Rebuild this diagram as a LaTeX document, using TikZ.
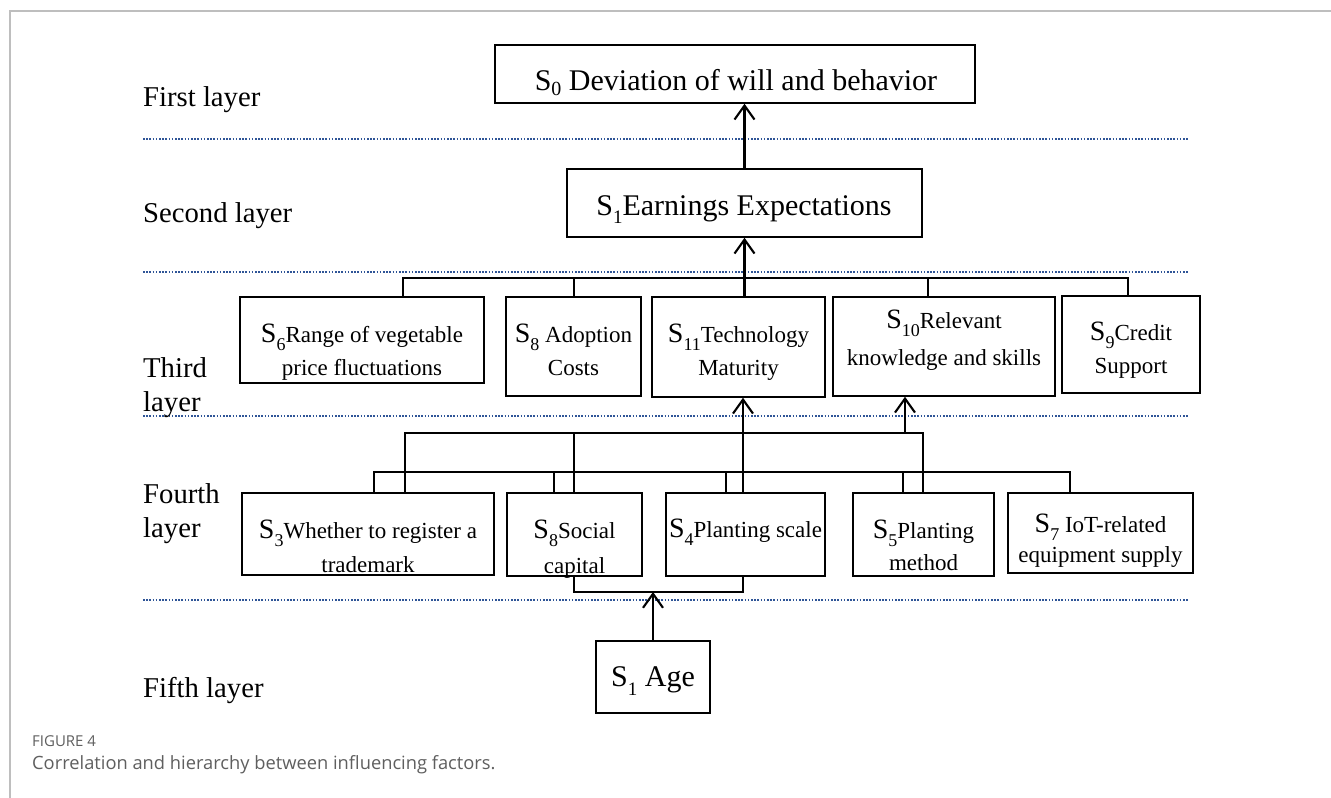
\documentclass[tikz,border=0pt]{standalone}
\usepackage{fontspec}
\setmainfont{Liberation Serif}
\newfontfamily\capfont{Open Sans}
\usetikzlibrary{arrows.meta}
\definecolor{dotblue}{RGB}{47,85,151}
\definecolor{framegray}{RGB}{190,190,190}
\definecolor{capgray}{RGB}{95,95,95}
\newcommand{\Sx}[4]{{\fontsize{#1}{#1}\selectfont S}\raisebox{-#3}{\fontsize{#2}{#2}\selectfont #4}}
\newcommand{\Sb}[1]{\Sx{28}{18}{8pt}{#1}}
\newcommand{\twol}[3]{\vtop{\baselineskip=#3\lineskiplimit=-100pt\halign{\hfil##\hfil\cr #1\cr #2\cr}}}
\begin{document}
\begin{tikzpicture}[x=1pt,y=-1pt,
  box/.style={draw, line width=1.5pt, inner sep=0pt},
  conn/.style={line width=2.1pt},
  arr/.style={line width=2.1pt, -{Straight Barb[length=14pt,width=20pt]}},
  layerline/.style={dotblue, line width=2pt, dash pattern=on 1.6pt off 1.6pt},
  lab/.style={anchor=base west, inner sep=0pt, font=\fontsize{28.7}{34}\selectfont},
  txt/.style={anchor=base, inner sep=0pt, font=\fontsize{23}{27}\selectfont},
  big/.style={anchor=base, inner sep=0pt, font=\fontsize{30}{34}\selectfont}]
\useasboundingbox (0,0) rectangle (1331,798);
\fill[white] (0,0) rectangle (1331,798);
% frame
\draw[framegray, line width=1.5pt] (10,798) -- (10,11) -- (1331,11);
% layer separators
\foreach \yy in {139,272,416,600} \draw[layerline] (143,\yy) -- (1188,\yy);
% layer labels
\node[lab] (L1) at (143,106) {First layer};
\node[lab] (L2) at (143,222) {Second layer};
\node[lab] (L3) at (143,377) {\vtop{\baselineskip=34pt\hbox{Third}\hbox{layer}}};
\node[lab] (L4) at (143,503) {\vtop{\baselineskip=34pt\hbox{Fourth}\hbox{layer}}};
\node[lab] (L5) at (143,697) {Fifth layer};
% boxes
\node[box, minimum width=480pt, minimum height=58pt] (S0) at (735,74) {};
\node[box, minimum width=355pt, minimum height=68pt] (S1) at (744.5,203) {};
\node[box, minimum width=244pt, minimum height=86pt] (S6) at (362,340) {};
\node[box, minimum width=135pt, minimum height=99pt] (S8a) at (573.5,346.5) {};
\node[box, minimum width=173pt, minimum height=100pt] (S11) at (738.5,347) {};
\node[box, minimum width=222pt, minimum height=99pt] (S10) at (944,346.5) {};
\node[box, minimum width=138pt, minimum height=97pt] (S9) at (1131,344.5) {};
\node[box, minimum width=252pt, minimum height=82pt] (S3) at (368,534) {};
\node[box, minimum width=135pt, minimum height=83pt] (S8s) at (574.5,534.5) {};
\node[box, minimum width=159pt, minimum height=83pt] (S4) at (745.5,534.5) {};
\node[box, minimum width=141pt, minimum height=83pt] (S5) at (923.5,534.5) {};
\node[box, minimum width=185pt, minimum height=80pt] (S7) at (1100.5,533) {};
\node[box, minimum width=114pt, minimum height=72pt] (Age) at (653,677) {};
% texts
\node[big] (T0) at (736,90) {\Sx{30}{20}{5pt}{0} Deviation of will and behavior};
\node[big] (T1) at (744,215) {\Sx{30}{19}{8pt}{1}Earnings Expectations};
\node[txt] (T6) at (362,342) {\twol{\Sb{6}Range of vegetable}{price fluctuations}{33pt}};
\node[txt] (T8a) at (573.5,342) {\twol{\Sb{8} Adoption}{Costs}{33pt}};
\node[txt] (T11) at (738.5,342) {\twol{\Sb{11}Technology}{Maturity}{33pt}};
\node[txt] (T10) at (944,328) {\twol{\Sb{10}Relevant}{knowledge and skills}{37pt}};
\node[txt] (T9) at (1131,340) {\twol{\Sb{9}Credit}{Support}{33pt}};
\node[txt] (T3) at (368,538) {\twol{\Sb{3}Whether to register a}{trademark}{34pt}};
\node[txt] (T8s) at (574.5,538) {\twol{\Sb{8}Social}{capital}{35pt}};
\node[txt] (T4) at (745.5,537) {\Sb{4}Planting scale};
\node[txt] (T5) at (923.5,538) {\twol{\Sb{5}Planting}{method}{32pt}};
\node[txt] (T7) at (1100.5,532) {\twol{\Sb{7} IoT-related}{equipment supply}{30pt}};
\node[big] (TA) at (653,686) {\Sx{30}{19}{9pt}{1} Age};
% connectors: second -> first
\draw[arr] (S1.north) -- (S1.north |- S0.south);
% third layer bus
\coordinate (b3L) at (403,278);
\coordinate (b3b) at (574,278);
\coordinate (b3d) at (928,278);
\coordinate (b3R) at (1128,278);
\draw[conn] (b3L |- S6.north) -- (b3L) -- (b3R) -- (b3R |- S9.north);
\draw[conn] (b3b) -- (b3b |- S8a.north);
\draw[conn] (b3d) -- (b3d |- S10.north);
\draw[arr] (S1.south |- S11.north) -- (S1.south);
% fourth layer upper bus
\coordinate (u1) at (405,433);
\coordinate (u2) at (574,433);
\coordinate (u3) at (743,433);
\coordinate (ua) at (905,433);
\coordinate (u4) at (923,433);
\draw[conn] (u1 |- S3.north) -- (u1) -- (u4) -- (u4 |- S5.north);
\draw[conn] (u2) -- (u2 |- S8s.north);
\draw[arr] (u3 |- S4.north) -- (u3 |- S11.south);
\draw[arr] (ua) -- (ua |- S10.south);
% fourth layer lower bus
\coordinate (l1) at (374,472);
\coordinate (l2) at (554,472);
\coordinate (l3) at (726,472);
\coordinate (l4) at (903,472);
\coordinate (l5) at (1070,472);
\draw[conn] (l1 |- S3.north) -- (l1) -- (l5) -- (l5 |- S7.north);
\draw[conn] (l2) -- (l2 |- S8s.north);
\draw[conn] (l3) -- (l3 |- S4.north);
\draw[conn] (l4) -- (l4 |- S5.north);
% bottom connector and Age arrow
\coordinate (d1) at (574,592);
\coordinate (d2) at (743,592);
\coordinate (da) at (653,592);
\draw[conn] (d1 |- S8s.south) -- (d1) -- (d2) -- (d2 |- S4.south);
\draw[arr] (Age.north) -- (Age.north |- da);
% caption
\node[anchor=base west, inner sep=0pt, text=capgray, font=\capfont\fontsize{15}{17}\selectfont] (fig) at (32,746) {FIGURE 4};
\node[anchor=base west, inner sep=0pt, text=capgray, font=\capfont\fontsize{18.3}{20}\selectfont] (cap) at (32,769) {Correlation and hierarchy between influencing factors.};
\end{tikzpicture}
\end{document}
